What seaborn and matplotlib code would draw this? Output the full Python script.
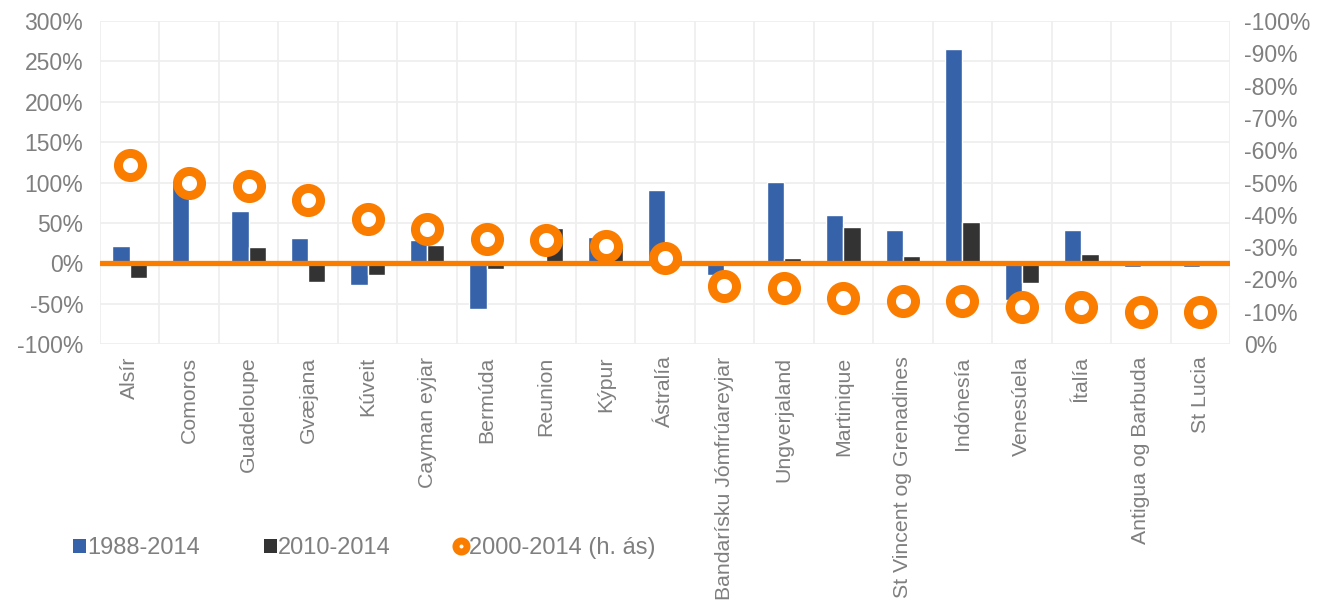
import matplotlib

matplotlib.use("Agg")

import matplotlib.pyplot as plt
import numpy as np
import pandas as pd
import seaborn as sns
from matplotlib.lines import Line2D
from matplotlib.patches import Patch
from matplotlib.ticker import FuncFormatter, MultipleLocator

countries = [
    "Alsír", "Comoros", "Guadeloupe", "Gvæjana", "Kúveit", "Cayman eyjar",
    "Bermúda", "Reunion", "Kýpur", "Ástralía", "Bandarísku Jómfrúareyjar",
    "Ungverjaland", "Martinique", "St Vincent og Grenadines", "Indónesía",
    "Venesúela", "Ítalía", "Antigua og Barbuda", "St Lucia",
]

# percent change, left axis
change_1988_2014 = [21, 100, 65, 31, -27, 29, -57, 3, 33, 91, -15,
                    101, 60, 41, 265, -45, 41, -5, -5]
change_2010_2014 = [-18, 0, 20, -23, -14, 22, -7, 44, 20, 9, 3,
                    7, 45, 9, 51, -24, 12, -4, -4]
# percent change, right axis (reversed)
change_2000_2014 = [-55.4, -49.8, -48.9, -44.6, -38.6, -35.6, -32.5, -32.2,
                    -30.3, -26.5, -18.0, -17.2, -14.1, -13.3, -13.4, -11.5,
                    -11.4, -9.8, -9.8]

series_names = ["1988-2014", "2010-2014", "2000-2014 (h. ás)"]

BLUE = "#3562A8"
DARK = "#333333"
ORANGE = "#FA7D00"
GREY_TEXT = "#7F7F7F"
GRID = "#EEEEEE"


def build_frames():
    bars = pd.DataFrame(
        {
            "country": countries * 2,
            "value": change_1988_2014 + change_2010_2014,
            "series": [series_names[0]] * len(countries)
            + [series_names[1]] * len(countries),
        }
    )
    dots = pd.DataFrame(
        {
            "pos": np.arange(len(countries)),
            "value": change_2000_2014,
        }
    )
    return bars, dots


def pct(v, _pos):
    return f"{v:.0f}%"


def render(bars: pd.DataFrame, dots: pd.DataFrame) -> None:
    sns.set_theme(style="white")
    plt.rcParams["font.family"] = ["Liberation Sans", "DejaVu Sans"]

    fig, ax = plt.subplots(figsize=(13.22, 6), dpi=100)
    fig.subplots_adjust(left=100 / 1322, right=1230 / 1322,
                        top=1 - 21 / 600, bottom=1 - 344 / 600)

    sns.barplot(
        data=bars, x="country", y="value", hue="series", order=countries,
        palette={series_names[0]: BLUE, series_names[1]: DARK},
        width=0.58, saturation=1, legend=False, ax=ax, zorder=2,
    )
    ax.axhline(0, color=ORANGE, lw=3.8, zorder=3)

    ax.set_ylim(-100, 300)
    ax.yaxis.set_major_locator(MultipleLocator(50))
    ax.yaxis.set_major_formatter(FuncFormatter(pct))
    ax.set_xlim(-0.5, len(countries) - 0.5)
    ax.set_xticks(np.arange(len(countries)))
    ax.set_xticklabels(countries, rotation=90)
    ax.set_xticks(np.arange(len(countries) + 1) - 0.5, minor=True)
    ax.grid(axis="y", which="major", color=GRID, lw=1.2, zorder=0)
    ax.grid(axis="x", which="minor", color=GRID, lw=1.2, zorder=0)
    ax.set_axisbelow(True)
    ax.tick_params(axis="both", which="both", length=0, colors=GREY_TEXT)
    ax.tick_params(axis="y", labelsize=16.5, pad=12)
    ax.tick_params(axis="x", labelsize=15.3, pad=9)
    ax.set_xlabel("")
    ax.set_ylabel("")
    for spine in ax.spines.values():
        spine.set_visible(False)

    ax2 = ax.twinx()
    sns.scatterplot(
        data=dots, x="pos", y="value", ax=ax2, s=300, color="white",
        edgecolor=ORANGE, linewidth=6.5, zorder=5,
    )
    ax2.set_ylim(0, -100)
    ax2.yaxis.set_major_locator(MultipleLocator(10))
    ax2.yaxis.set_major_formatter(FuncFormatter(pct))
    ax2.tick_params(axis="y", length=0, colors=GREY_TEXT, labelsize=16.5,
                    pad=10)
    ax2.set_xlim(-0.5, len(countries) - 0.5)
    ax2.set_xlabel("")
    ax2.set_ylabel("")
    for spine in ax2.spines.values():
        spine.set_visible(False)

    handles = [
        Patch(facecolor=BLUE, edgecolor="none"),
        Patch(facecolor=DARK, edgecolor="none"),
        Line2D([], [], ls="none", marker="o", ms=8, mfc="white",
               mec=ORANGE, mew=5),
    ]
    fig.legend(
        handles, series_names, loc="center left",
        bbox_to_anchor=(52 / 1322, 1 - 548 / 600), ncol=3, frameon=False,
        fontsize=17, labelcolor=GREY_TEXT, handlelength=0.55,
        handleheight=0.55, handletextpad=0.05, columnspacing=2.7,
    )

    fig.savefig("out.png", dpi=100)
    plt.close(fig)


def main() -> None:
    bars, dots = build_frames()
    render(bars, dots)


if __name__ == "__main__":
    main()
